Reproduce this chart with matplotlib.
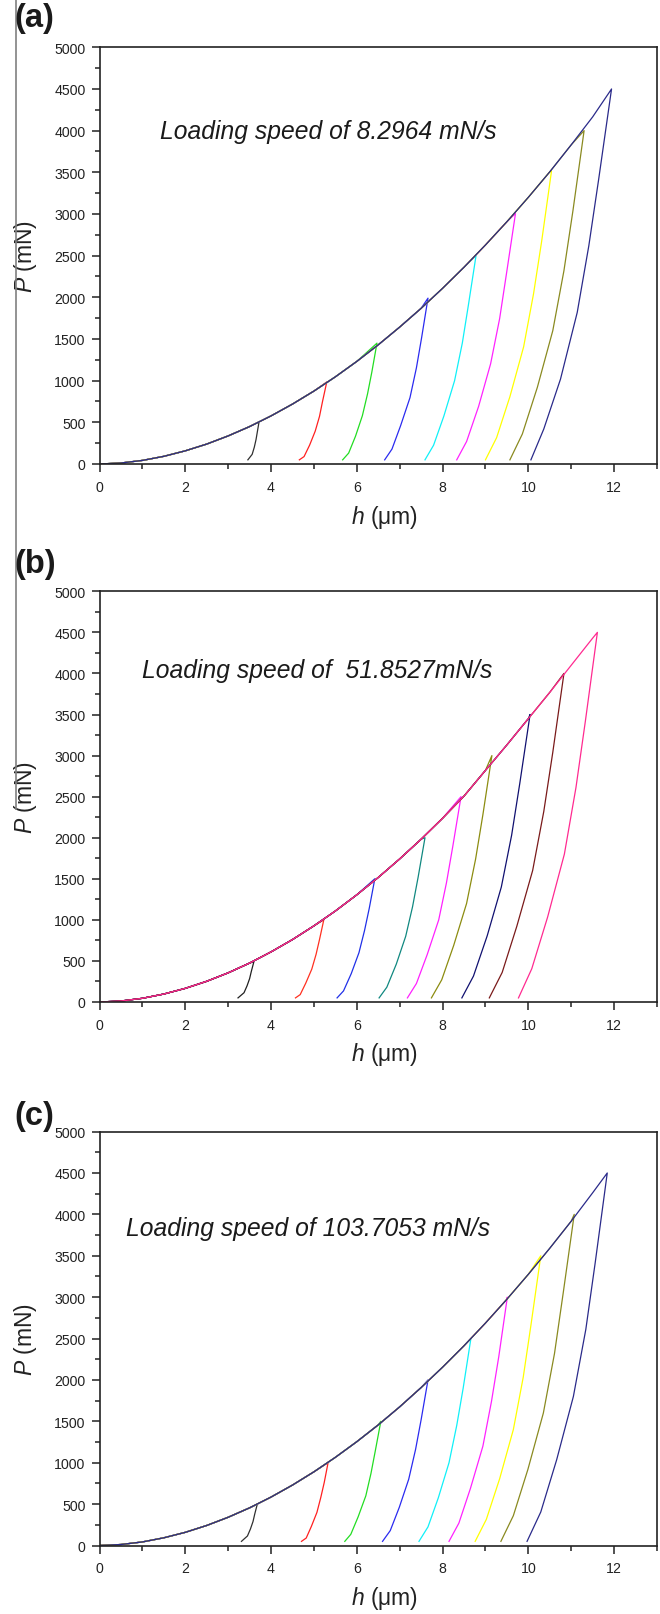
import matplotlib.pyplot as plt
from matplotlib.lines import Line2D
from matplotlib.ticker import MultipleLocator

plt.rcParams['font.family'] = ['Liberation Sans', 'DejaVu Sans']
plt.rcParams['mathtext.fontset'] = 'custom'
plt.rcParams['mathtext.it'] = 'Liberation Sans:italic'
plt.rcParams['mathtext.rm'] = 'Liberation Sans'

# shared depth grid of the loading envelope (um)
load_h = [0, 0.5, 1, 1.5, 2, 2.5, 3, 3.5, 4, 4.5, 5, 5.5, 6, 6.5, 7, 7.5,
          8, 8.5, 9, 9.5, 10, 10.5, 11, 11.5, 12]

# ---- (a) 8.2964 mN/s
a_load_P = [0, 12, 43, 92, 158, 239, 337, 449, 577, 719, 875, 1046, 1231, 1430,
            1643, 1868, 2108, 2361, 2628, 2907, 3200, 3506, 3830, 4165, 4500]
a_unload_h = [
    [3.72, 3.68, 3.65, 3.61, 3.56, 3.46],
    [5.30, 5.20, 5.13, 5.03, 4.90, 4.77, 4.66],
    [6.47, 6.35, 6.25, 6.13, 5.97, 5.81, 5.67],
    [7.66, 7.51, 7.39, 7.24, 7.02, 6.82, 6.65],
    [8.78, 8.60, 8.46, 8.28, 8.03, 7.79, 7.59],
    [9.70, 9.49, 9.33, 9.12, 8.84, 8.56, 8.33],
    [10.54, 10.31, 10.12, 9.89, 9.57, 9.26, 9.00],
    [11.30, 11.04, 10.83, 10.57, 10.21, 9.86, 9.57],
    [11.94, 11.64, 11.41, 11.14, 10.75, 10.36, 10.06],
]
a_unload_P = [
    [505, 384, 293, 202, 116, 50],
    [985, 749, 571, 394, 227, 89, 50],
    [1450, 1102, 841, 580, 334, 131, 50],
    [1990, 1512, 1154, 796, 458, 179, 50],
    [2500, 1900, 1450, 1000, 575, 225, 50],
    [3005, 2284, 1743, 1202, 691, 270, 50],
    [3515, 2671, 2039, 1406, 808, 316, 50],
    [4000, 3040, 2320, 1600, 920, 360, 50],
    [4500, 3417, 2618, 1819, 1019, 420, 50],
]

# ---- (b) 51.8527 mN/s
b_load_P = [0, 12, 45, 97, 166, 252, 355, 474, 610, 760, 927, 1108, 1305, 1516,
            1742, 1982, 2237, 2507, 2820, 3130, 3450, 3770, 4100, 4430, 4760]
b_unload_h = [
    [3.60, 3.54, 3.50, 3.44, 3.37, 3.23],
    [5.23, 5.13, 5.05, 4.95, 4.81, 4.68, 4.57],
    [6.42, 6.29, 6.18, 6.05, 5.87, 5.69, 5.54],
    [7.59, 7.43, 7.30, 7.14, 6.92, 6.70, 6.52],
    [8.43, 8.24, 8.09, 7.91, 7.64, 7.39, 7.18],
    [9.15, 8.94, 8.77, 8.56, 8.26, 7.98, 7.74],
    [10.04, 9.80, 9.61, 9.37, 9.04, 8.72, 8.45],
    [10.83, 10.57, 10.36, 10.10, 9.73, 9.39, 9.09],
    [11.61, 11.33, 11.11, 10.84, 10.45, 10.08, 9.77],
]
b_unload_P = [
    [490, 372, 284, 196, 113, 50],
    [1000, 760, 580, 400, 230, 90, 50],
    [1500, 1140, 870, 600, 345, 135, 50],
    [2000, 1520, 1160, 800, 460, 180, 50],
    [2500, 1900, 1450, 1000, 575, 225, 50],
    [3000, 2280, 1740, 1200, 690, 270, 50],
    [3500, 2660, 2030, 1400, 805, 315, 50],
    [4000, 3040, 2320, 1600, 920, 360, 50],
    [4500, 3420, 2610, 1800, 1035, 405, 50],
]

# ---- (c) 103.7053 mN/s
c_load_P = [0, 12, 43, 93, 159, 242, 341, 455, 585, 730, 890, 1065, 1254, 1457,
            1675, 1908, 2154, 2413, 2687, 2975, 3276, 3591, 3918, 4261, 4620]
c_unload_h = [
    [3.68, 3.62, 3.58, 3.52, 3.45, 3.31],
    [5.33, 5.24, 5.16, 5.07, 4.94, 4.82, 4.71],
    [6.56, 6.43, 6.33, 6.21, 6.03, 5.86, 5.72],
    [7.66, 7.50, 7.37, 7.21, 6.99, 6.78, 6.60],
    [8.66, 8.48, 8.33, 8.15, 7.90, 7.66, 7.45],
    [9.51, 9.31, 9.14, 8.94, 8.65, 8.38, 8.15],
    [10.29, 10.06, 9.88, 9.65, 9.33, 9.02, 8.76],
    [11.07, 10.81, 10.61, 10.35, 9.99, 9.65, 9.36],
    [11.84, 11.56, 11.34, 11.05, 10.66, 10.29, 9.97],
]
c_unload_P = [
    [500, 380, 290, 200, 115, 50],
    [1000, 760, 580, 400, 230, 90, 50],
    [1500, 1140, 870, 600, 345, 135, 50],
    [2000, 1520, 1160, 800, 460, 180, 50],
    [2500, 1900, 1450, 1000, 575, 225, 50],
    [3000, 2280, 1740, 1200, 690, 270, 50],
    [3500, 2660, 2030, 1400, 805, 315, 50],
    [4000, 3040, 2320, 1600, 920, 360, 50],
    [4500, 3420, 2610, 1800, 1035, 405, 50],
]

speed_labels = ["Loading speed of 8.2964 mN/s",
                "Loading speed of  51.8527mN/s",
                "Loading speed of 103.7053 mN/s"]
panel_tags = ["(a)", "(b)", "(c)"]

colors_ac = ["#303030", "#ff2020", "#22dd22", "#2a2af0", "#10f0f8",
             "#ff22ff", "#ffff00", "#8a8a20", "#2a2a8a"]
colors_b = ["#202020", "#ff3020", "#2030e8", "#108880", "#ff20ff",
            "#8c8c10", "#101070", "#7a1a1a", "#ff2a90"]

W, H = 660, 1615
fig = plt.figure(figsize=(W / 100, H / 100), dpi=100)

# axes boxes in pixels: (top, bottom)
boxes = [(48.3, 465.0), (592.3, 1003.0), (1132.6, 1546.5)]
tag_y = [19, 564, 1116]
text_pos = [(1.41, 4000), (0.99, 4040), (0.61, 3830)]
left, right = 99.5, 657.0

panels = [(a_load_P, a_unload_h, a_unload_P, colors_ac),
          (b_load_P, b_unload_h, b_unload_P, colors_b),
          (c_load_P, c_unload_h, c_unload_P, colors_ac)]

for i, (load_P, un_h, un_P, cols) in enumerate(panels):
    top, bot = boxes[i]
    ax = fig.add_axes([left / W, 1 - bot / H, (right - left) / W, (bot - top) / H])
    for k in range(len(un_h)):
        ph = un_h[k][0]
        hh = [h for h in load_h if h < ph]
        pp = load_P[:len(hh)]
        hh = hh + un_h[k]
        pp = pp + un_P[k]
        ax.plot(hh, pp, color=cols[k], lw=0.9)

    ax.set_xlim(0, 13)
    ax.set_ylim(0, 5000)
    ax.xaxis.set_major_locator(MultipleLocator(2))
    ax.xaxis.set_minor_locator(MultipleLocator(1))
    ax.yaxis.set_major_locator(MultipleLocator(500))
    ax.yaxis.set_minor_locator(MultipleLocator(250))
    ax.tick_params(which='both', direction='out', width=1.1, colors='#222222',
                   labelsize=10.2, top=False, right=False)
    ax.tick_params(which='major', length=6)
    ax.tick_params(which='minor', length=3.5)
    ax.tick_params(axis='x', pad=5.5)
    ax.tick_params(axis='y', pad=4)
    for s in ax.spines.values():
        s.set_linewidth(1.2)
        s.set_color('#222222')

    ax.text(-0.133, 0.5, r"$P$ (mN)", transform=ax.transAxes, rotation=90,
            ha='center', va='center', fontsize=16.5, color='#222222')
    ax.text(0.512, -0.126, r"$h$ (μm)", transform=ax.transAxes,
            ha='center', va='center', fontsize=16.5, color='#222222')
    tx, ty = text_pos[i]
    ax.text(tx, ty, speed_labels[i], ha='left', va='center', fontsize=17.7,
            style='italic', color='#1a1a1a')

    fig.text(14 / W, 1 - tag_y[i] / H, panel_tags[i], ha='left', va='center',
             fontsize=23.5, fontweight='bold', color='#1a1a1a')

# thin grey rule along the left edge of the original page
fig.add_artist(Line2D([16 / W, 16 / W], [1, 1 - 810 / H], transform=fig.transFigure,
                      color='#808080', lw=1.2))

fig.savefig("out.png", dpi=100)
